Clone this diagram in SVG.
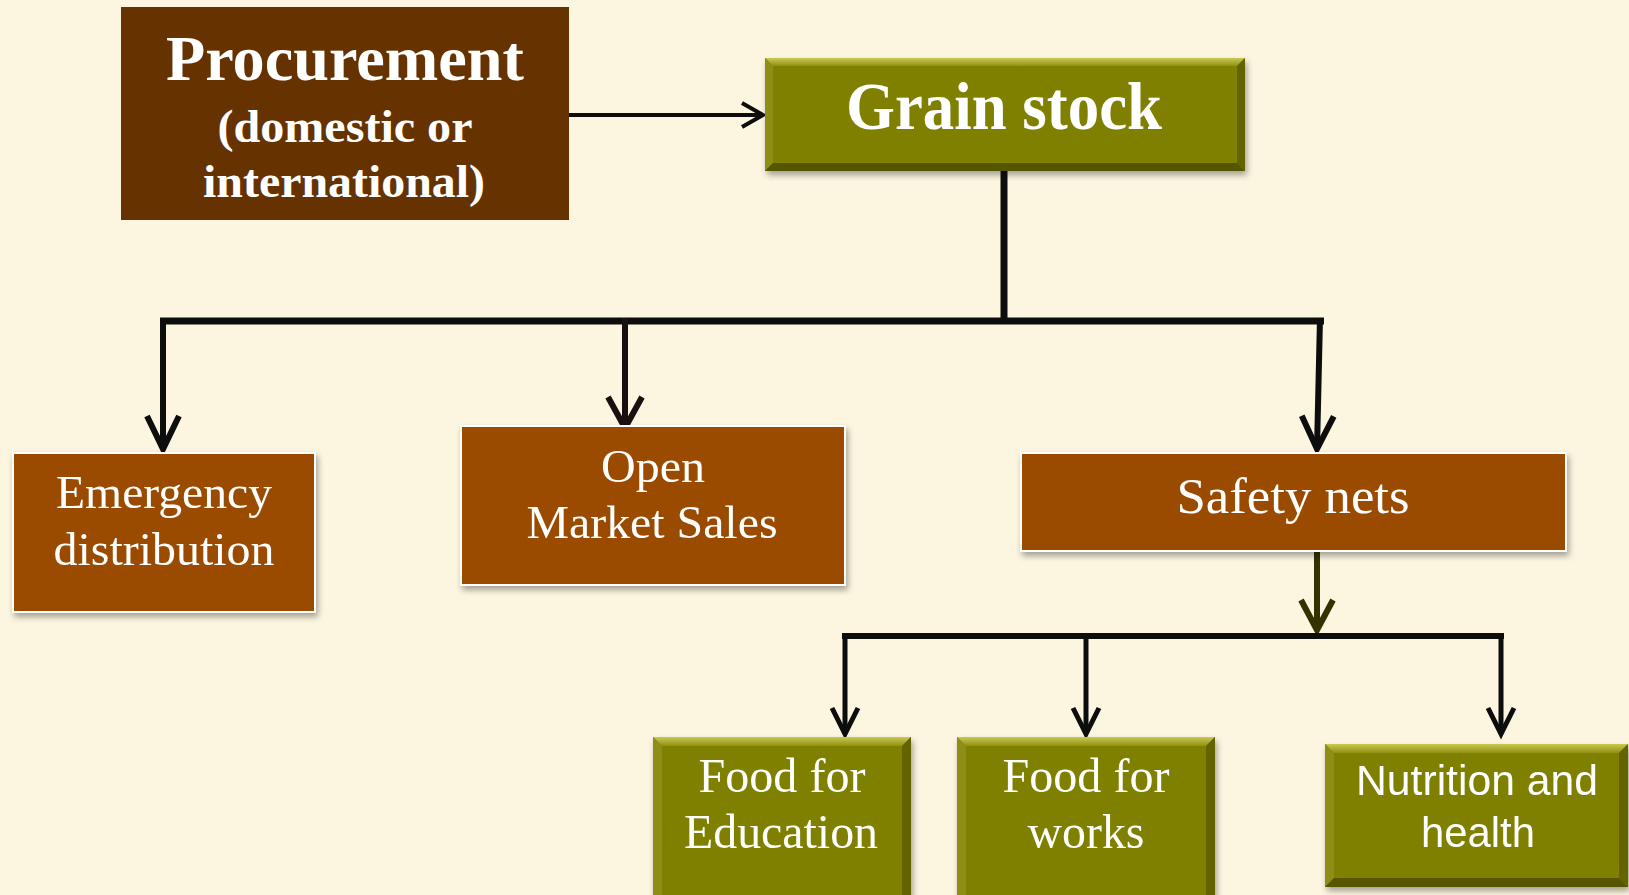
<svg xmlns="http://www.w3.org/2000/svg" width="1629" height="895" viewBox="0 0 1629 895">
  <style>
    .serif { font-family: "Liberation Serif", "Times New Roman", serif; fill: #ffffff; text-anchor: middle; }
    .bold { font-weight: bold; }
    .sans { font-family: "Liberation Sans", Arial, sans-serif; fill: #ffffff; text-anchor: middle; }
    .brown { fill: #9a4c00; stroke: #ffffff; stroke-width: 2; }
    .olive { fill: #808000; }
    .bev-top { fill: url(#bevTop); }
    .bev-left { fill: #8e8e12; }
    .bev-right { fill: #646400; }
    .bev-bottom { fill: #565600; }
    .wire { fill: none; stroke: #0d0d0d; stroke-linejoin: miter; }
  </style>
  <defs>
    <linearGradient id="bevTop" x1="0" y1="0" x2="0" y2="1">
      <stop offset="0" stop-color="#caca52"/>
      <stop offset="1" stop-color="#909014"/>
    </linearGradient>
    <filter id="shadow" x="-10%" y="-10%" width="125%" height="135%">
      <feDropShadow dx="2" dy="4" stdDeviation="3" flood-color="#000000" flood-opacity="0.35"/>
    </filter>
    <marker id="headL" markerUnits="userSpaceOnUse" orient="auto" refX="0" refY="0" markerWidth="40" markerHeight="40" overflow="visible">
      <path d="M -33 -16 L 0 0 L -33 16" fill="none" stroke="#0d0d0d" stroke-width="6"/>
    </marker>
    <marker id="headLd" markerUnits="userSpaceOnUse" orient="auto" refX="0" refY="0" markerWidth="40" markerHeight="40" overflow="visible">
      <path d="M -31 -17 L 0 0 L -31 17" fill="none" stroke="#1a1010" stroke-width="6"/>
    </marker>
    <marker id="headOl" markerUnits="userSpaceOnUse" orient="auto" refX="0" refY="0" markerWidth="40" markerHeight="40" overflow="visible">
      <path d="M -30 -16 L 0 0 L -30 16" fill="none" stroke="#333300" stroke-width="6"/>
    </marker>
    <marker id="headM" markerUnits="userSpaceOnUse" orient="auto" refX="0" refY="0" markerWidth="40" markerHeight="40" overflow="visible">
      <path d="M -26 -13 L 0 0 L -26 13" fill="none" stroke="#0d0d0d" stroke-width="5"/>
    </marker>
    <marker id="headS" markerUnits="userSpaceOnUse" orient="auto" refX="0" refY="0" markerWidth="40" markerHeight="40" overflow="visible">
      <path d="M -21 -12 L 0 0 L -21 12" fill="none" stroke="#0d0d0d" stroke-width="4"/>
    </marker>
  </defs>

  <rect x="0" y="0" width="1629" height="895" fill="#fcf6e0"/>

  <!-- connectors -->
  <g id="connectors">
    <path class="wire" d="M 569 115 H 763" stroke-width="4" marker-end="url(#headS)"/>
    <path class="wire" d="M 1004 171 V 321" stroke-width="7"/>
    <path class="wire" d="M 160 321 H 1324" stroke-width="7"/>
    <path class="wire" d="M 163 318 V 449" stroke-width="6" marker-end="url(#headL)"/>
    <path d="M 625 318 V 428" fill="none" stroke="#1a1010" stroke-width="6" marker-end="url(#headLd)"/>
    <path class="wire" d="M 1320 318 L 1317 449" stroke-width="6" marker-end="url(#headL)"/>
    <path d="M 1317 551 V 630" fill="none" stroke="#333300" stroke-width="6" marker-end="url(#headOl)"/>
    <path class="wire" d="M 842 636 H 1504" stroke-width="6"/>
    <path class="wire" d="M 845 634 V 734" stroke-width="5" marker-end="url(#headM)"/>
    <path class="wire" d="M 1086 634 V 734" stroke-width="5" marker-end="url(#headM)"/>
    <path class="wire" d="M 1501 634 V 734" stroke-width="5" marker-end="url(#headM)"/>
  </g>

  <!-- source node -->
  <g id="procurement">
    <rect x="121" y="7" width="448" height="213" fill="#663300"/>
    <text class="serif bold" x="345" y="80" font-size="63" textLength="358" lengthAdjust="spacingAndGlyphs">Procurement</text>
    <text class="serif bold" x="345" y="142" font-size="46" textLength="255" lengthAdjust="spacingAndGlyphs">(domestic or</text>
    <text class="serif bold" x="344" y="197" font-size="46" textLength="282" lengthAdjust="spacingAndGlyphs">international)</text>
  </g>

  <g id="grain-stock" filter="url(#shadow)">
    <rect class="olive" x="765" y="58" width="480" height="113"/>
    <polygon class="bev-top" points="765,58 1245,58 1237,66 773,66"/>
    <polygon class="bev-left" points="765,58 773,66 773,163 765,171"/>
    <polygon class="bev-right" points="1245,58 1237,66 1237,163 1245,171"/>
    <polygon class="bev-bottom" points="765,171 773,163 1237,163 1245,171"/>
    <text class="serif bold" x="1004" y="129" font-size="67" textLength="316" lengthAdjust="spacingAndGlyphs">Grain stock</text>
  </g>

  <g id="emergency-distribution" filter="url(#shadow)">
    <rect class="brown" x="13" y="453" width="302" height="159"/>
    <text class="serif" x="164" y="508" font-size="47" textLength="216" lengthAdjust="spacingAndGlyphs">Emergency</text>
    <text class="serif" x="164" y="565" font-size="47" textLength="221" lengthAdjust="spacingAndGlyphs">distribution</text>
  </g>

  <g id="open-market-sales" filter="url(#shadow)">
    <rect class="brown" x="461" y="426" width="384" height="159"/>
    <text class="serif" x="653" y="482" font-size="47" textLength="104" lengthAdjust="spacingAndGlyphs">Open</text>
    <text class="serif" x="652" y="538" font-size="47" textLength="251" lengthAdjust="spacingAndGlyphs">Market Sales</text>
  </g>

  <g id="safety-nets" filter="url(#shadow)">
    <rect class="brown" x="1021" y="453" width="545" height="98"/>
    <text class="serif" x="1293" y="513" font-size="50" textLength="233" lengthAdjust="spacingAndGlyphs">Safety nets</text>
  </g>

  <g id="food-for-education" filter="url(#shadow)">
    <rect class="olive" x="653" y="737" width="258" height="175"/>
    <polygon class="bev-top" points="653,737 911,737 902,746 662,746"/>
    <polygon class="bev-left" points="653,737 662,746 662,912 653,912"/>
    <polygon class="bev-right" points="911,737 902,746 902,912 911,912"/>
    <text class="serif" x="782" y="792" font-size="48" textLength="167" lengthAdjust="spacingAndGlyphs">Food for</text>
    <text class="serif" x="781" y="848" font-size="48" textLength="194" lengthAdjust="spacingAndGlyphs">Education</text>
  </g>

  <g id="food-for-works" filter="url(#shadow)">
    <rect class="olive" x="957" y="737" width="258" height="175"/>
    <polygon class="bev-top" points="957,737 1215,737 1206,746 966,746"/>
    <polygon class="bev-left" points="957,737 966,746 966,912 957,912"/>
    <polygon class="bev-right" points="1215,737 1206,746 1206,912 1215,912"/>
    <text class="serif" x="1086" y="792" font-size="48" textLength="167" lengthAdjust="spacingAndGlyphs">Food for</text>
    <text class="serif" x="1086" y="848" font-size="48" textLength="117" lengthAdjust="spacingAndGlyphs">works</text>
  </g>

  <g id="nutrition-and-health" filter="url(#shadow)">
    <rect class="olive" x="1325" y="744" width="303" height="143"/>
    <polygon class="bev-top" points="1325,744 1628,744 1619,753 1334,753"/>
    <polygon class="bev-left" points="1325,744 1334,753 1334,878 1325,887"/>
    <polygon class="bev-right" points="1628,744 1619,753 1619,878 1628,887"/>
    <polygon class="bev-bottom" points="1325,887 1334,878 1619,878 1628,887"/>
    <text class="sans" x="1477" y="795" font-size="42" textLength="242" lengthAdjust="spacingAndGlyphs">Nutrition and</text>
    <text class="sans" x="1478" y="847" font-size="42" textLength="114" lengthAdjust="spacingAndGlyphs">health</text>
  </g>
</svg>
